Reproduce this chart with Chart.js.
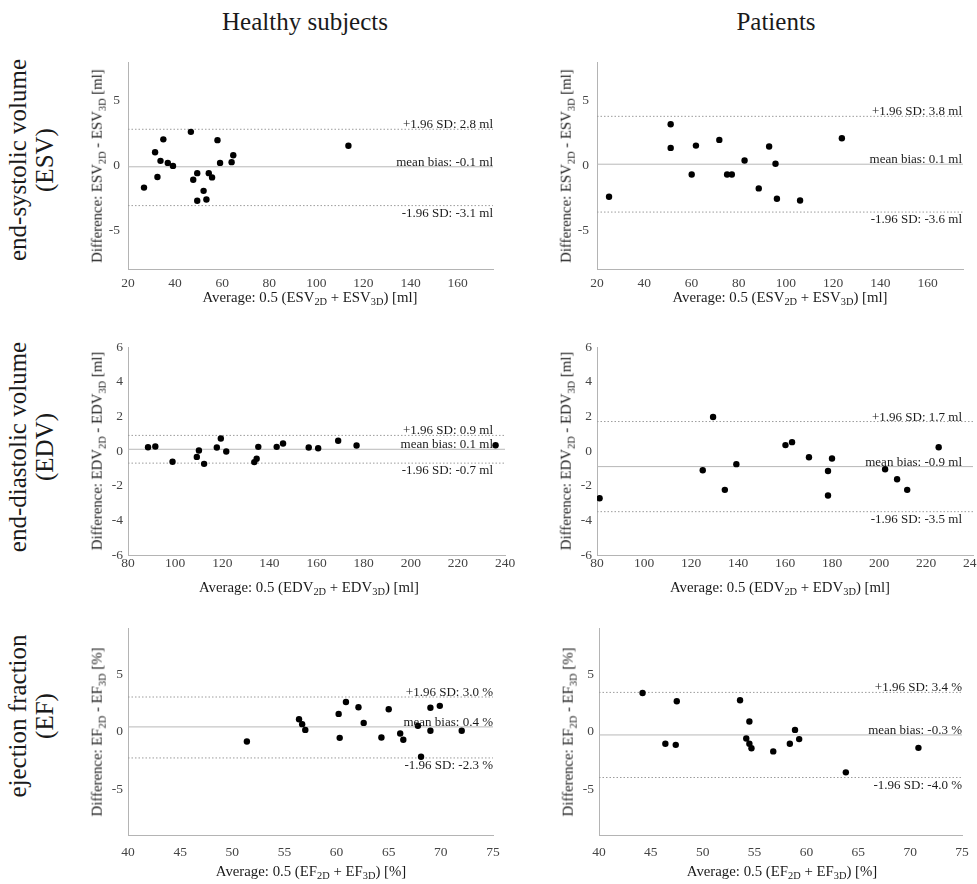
<!DOCTYPE html>
<html>
<head>
<meta charset="utf-8">
<script src="https://cdn.jsdelivr.net/npm/chart.js@4.4.1/dist/chart.umd.min.js"></script>
<style>
  body { margin: 0; background: #fff; }
  #fig { position: relative; width: 977px; height: 884px; font-family: "Liberation Serif", "Times New Roman", serif; color: #1a1a1a; overflow: hidden; }
  canvas { position: absolute; }
  .t { position: absolute; white-space: nowrap; transform: translate(-50%, -50%); }
  .rot { transform: translate(-50%, -50%) rotate(-90deg); }
  .sub { font-size: 70%; vertical-align: -0.35em; }
</style>
</head>
<body>
<div id="fig"></div>
<script>
// ---- data ----
const columns = ['Healthy subjects', 'Patients'];
const rowTitles = [['end-systolic volume', '(ESV)'], ['end-diastolic volume', '(EDV)'], ['ejection fraction', '(EF)']];

// ESV, healthy subjects
const esvHealthyAvg  = [26.8, 31.5, 32.5, 33.8, 35.0, 36.9, 39.1, 46.7, 47.7, 49.4, 49.4, 52.1, 53.3, 54.3, 55.7, 58.0, 59.1, 64.0, 64.7, 113.6];
const esvHealthyDiff = [-1.71, 1.02, -0.89, 0.36, 2.02, 0.20, -0.03, 2.60, -1.10, -0.59, -2.73, -1.96, -2.63, -0.59, -0.92, 1.96, 0.20, 0.26, 0.79, 1.53];
const esvHealthyLimits = [2.8, -0.1, -3.1];

// ESV, patients
const esvPatientAvg  = [25.1, 51.2, 51.2, 60.1, 61.9, 71.8, 75.1, 77.1, 82.5, 88.5, 92.9, 95.6, 96.2, 106.0, 123.7];
const esvPatientDiff = [-2.42, 3.19, 1.36, -0.69, 1.54, 1.98, -0.69, -0.69, 0.39, -1.77, 1.47, 0.13, -2.57, -2.70, 2.11];
const esvPatientLimits = [3.8, 0.1, -3.6];

// EDV, healthy subjects
const edvHealthyAvg  = [88.5, 91.6, 98.9, 109.2, 110.1, 112.3, 117.7, 119.4, 121.7, 133.6, 134.6, 135.3, 143.1, 145.8, 156.7, 160.7, 169.2, 177.0, 236.0];
const edvHealthyDiff = [0.22, 0.26, -0.62, -0.34, 0.03, -0.74, 0.20, 0.72, -0.03, -0.64, -0.45, 0.24, 0.24, 0.43, 0.20, 0.16, 0.59, 0.32, 0.33];
const edvHealthyLimits = [0.9, 0.1, -0.7];

// EDV, patients
const edvPatientAvg  = [81.1, 125.0, 129.4, 134.4, 139.3, 160.2, 163.0, 170.2, 178.3, 178.3, 180.0, 202.6, 207.7, 212.0, 225.4];
const edvPatientDiff = [-2.73, -1.11, 1.96, -2.24, -0.76, 0.34, 0.51, -0.36, -1.15, -2.57, -0.43, -1.05, -1.63, -2.24, 0.22];
const edvPatientLimits = [1.7, -0.9, -3.5];

// EF, healthy subjects
const efHealthyAvg  = [51.4, 56.4, 56.7, 57.0, 60.2, 60.3, 60.9, 62.1, 62.6, 64.3, 65.0, 66.1, 66.4, 67.8, 68.1, 69.0, 69.9, 69.0, 72.0];
const efHealthyDiff = [-0.87, 1.07, 0.64, 0.14, 1.53, -0.55, 2.57, 2.11, 0.75, -0.52, 1.94, -0.17, -0.72, 0.49, -2.19, 2.06, 2.23, 0.06, 0.06];
const efHealthyLimits = [3.0, 0.4, -2.3];

// EF, patients
const efPatientAvg  = [44.2, 46.4, 47.4, 47.5, 53.6, 54.2, 54.5, 54.5, 54.7, 56.8, 58.4, 58.9, 59.3, 63.8, 70.8];
const efPatientDiff = [3.35, -1.07, -1.16, 2.63, 2.72, -0.61, 0.87, -1.07, -1.45, -1.73, -1.07, 0.14, -0.66, -3.55, -1.42];
const efPatientLimits = [3.4, -0.3, -4.0];

// ticks
const esvXTicks = [20, 40, 60, 80, 100, 120, 140, 160];
const esvYTicks = [-5, 0, 5];
const edvXTicks = [80, 100, 120, 140, 160, 180, 200, 220, 240];
const edvYTicks = [-6, -4, -2, 0, 2, 4, 6];
const efXTicks = [40, 45, 50, 55, 60, 65, 70, 75];
const efYTicks = [-5, 0, 5];

const FONT = '"Liberation Serif", "Times New Roman", serif';
const fig = document.getElementById('fig');

function addText(html, x, y, size, rotated) {
  const d = document.createElement('div');
  d.className = 't' + (rotated ? ' rot' : '');
  d.style.left = x + 'px';
  d.style.top = y + 'px';
  d.style.fontSize = size + 'px';
  d.innerHTML = html;
  fig.appendChild(d);
  return d;
}

// text next to the bias / limit lines
const limitLabels = {
  id: 'limitLabels',
  afterDatasetsDraw(chart) {
    const o = chart.options.plugins.limitLabels;
    const ctx = chart.ctx;
    const y = chart.scales.y;
    const right = o.right;
    const f = v => v.toFixed(1);
    ctx.save();
    ctx.font = '13px ' + FONT;
    ctx.fillStyle = '#1a1a1a';
    ctx.textAlign = 'right';
    ctx.textBaseline = 'alphabetic';
    ctx.fillText('+1.96 SD: ' + f(o.lim[0]) + ' ' + o.unit, right, y.getPixelForValue(o.lim[0]) - 1);
    ctx.fillText('mean bias: ' + f(o.lim[1]) + ' ' + o.unit, right, y.getPixelForValue(o.lim[1]) - 1);
    ctx.fillText('-1.96 SD: ' + f(o.lim[2]) + ' ' + o.unit, right, y.getPixelForValue(o.lim[2]) + 11);
    ctx.restore();
  }
};

function makePanel(p) {
  const padL = 40, padT = 10, padB = 34;
  const padR = Math.max(0, Math.min(14, 977 - p.right));
  const w = p.right - p.left, h = p.bottom - p.top;
  const cv = document.createElement('canvas');
  cv.width = w + padL + padR;
  cv.height = h + padT + padB;
  cv.style.left = (p.left - padL) + 'px';
  cv.style.top = (p.top - padT) + 'px';
  fig.appendChild(cv);

  const hline = (v, dash, color) => ({
    type: 'line',
    data: [{x: p.xMin, y: v}, {x: p.xMax, y: v}],
    borderColor: color, borderWidth: 1, borderDash: dash,
    pointRadius: 0, fill: false
  });

  new Chart(cv, {
    type: 'scatter',
    data: {
      datasets: [
        {
          data: p.xs.map((x, i) => ({x: x, y: p.ys[i]})),
          backgroundColor: '#000', borderWidth: 0, pointRadius: 3.2
        },
        hline(p.lim[0], [1.5, 2], '#9c9c9c'),
        hline(p.lim[1], [], '#b8b8b8'),
        hline(p.lim[2], [1.5, 2], '#9c9c9c')
      ]
    },
    options: {
      responsive: false,
      animation: false,
      events: [],
      layout: {padding: {left: 0, top: padT, right: padR, bottom: 0}},
      plugins: {
        legend: {display: false},
        tooltip: {enabled: false},
        limitLabels: {lim: p.lim, unit: p.unit, right: p.labelRight - (p.left - padL)}
      },
      scales: {
        x: {
          type: 'linear', min: p.xMin, max: p.xMax,
          grid: {display: false, drawTicks: false},
          border: {color: '#b4b4b4'},
          ticks: {font: {family: FONT, size: 13.5}, color: '#444', padding: p.xPad, maxRotation: 0},
          afterBuildTicks: s => { s.ticks = p.xTicks.map(v => ({value: v})); },
          afterFit: s => { s.height = padB; s.paddingLeft = 0; s.paddingRight = 0; }
        },
        y: {
          type: 'linear', min: p.yMin, max: p.yMax,
          grid: {display: false, drawTicks: false},
          border: {color: '#b4b4b4'},
          ticks: {font: {family: FONT, size: 13.5}, color: '#444', padding: p.yPad},
          afterBuildTicks: s => { s.ticks = p.yTicks.map(v => ({value: v})); },
          afterFit: s => { s.width = padL; s.paddingTop = 0; s.paddingBottom = 0; }
        }
      }
    },
    plugins: [limitLabels]
  });

  const cy = (p.top + p.bottom) / 2;
  addText(p.xTitle, p.titleX, p.xTitleY, 14.8, false);
  addText(p.yTitle, p.left - 30, cy, 14.8, true);
}

const sub = s => '<span class="sub">' + s + '</span>';
const xt = (q, u) => 'Average: 0.5 (' + q + sub('2D') + ' + ' + q + sub('3D') + ') [' + u + ']';
const yt = (q, u) => 'Difference: ' + q + sub('2D') + ' - ' + q + sub('3D') + ' [' + u + ']';

// column / row headings
addText(columns[0], 305, 22, 25, false);
addText(columns[1], 776, 22, 25, false);
const rowCenters = [160, 447, 716];
rowTitles.forEach((r, i) => {
  const d = addText(r[0] + '<br>' + r[1], 31, rowCenters[i], 25, true);
  d.style.textAlign = 'center';
  d.style.lineHeight = '27px';
});

const rows = [
  {top: 62, bottom: 269, xTitleY: 298, xPad: 6, yPad: 8},
  {top: 347, bottom: 555, xTitleY: 588, xPad: 0, yPad: 5},
  {top: 628, bottom: 835, xTitleY: 872, xPad: 9, yPad: 5}
];

makePanel(Object.assign({}, rows[0], {left: 128, right: 493, labelRight: 493, titleX: 310,
  xMin: 20, xMax: 175, yMin: -8, yMax: 8,
  xs: esvHealthyAvg, ys: esvHealthyDiff, lim: esvHealthyLimits, unit: 'ml',
  xTicks: esvXTicks, yTicks: esvYTicks, xTitle: xt('ESV', 'ml'), yTitle: yt('ESV', 'ml')}));
makePanel(Object.assign({}, rows[0], {left: 597, right: 963, labelRight: 962, titleX: 780,
  xMin: 20, xMax: 175, yMin: -8, yMax: 8,
  xs: esvPatientAvg, ys: esvPatientDiff, lim: esvPatientLimits, unit: 'ml',
  xTicks: esvXTicks, yTicks: esvYTicks, xTitle: xt('ESV', 'ml'), yTitle: yt('ESV', 'ml')}));
makePanel(Object.assign({}, rows[1], {left: 128, right: 505, labelRight: 493, titleX: 309,
  xMin: 80, xMax: 240, yMin: -6, yMax: 6,
  xs: edvHealthyAvg, ys: edvHealthyDiff, lim: edvHealthyLimits, unit: 'ml',
  xTicks: edvXTicks, yTicks: edvYTicks, xTitle: xt('EDV', 'ml'), yTitle: yt('EDV', 'ml')}));
makePanel(Object.assign({}, rows[1], {left: 597, right: 975, labelRight: 962, titleX: 780,
  xMin: 80, xMax: 240, yMin: -6, yMax: 6,
  xs: edvPatientAvg, ys: edvPatientDiff, lim: edvPatientLimits, unit: 'ml',
  xTicks: edvXTicks, yTicks: edvYTicks, xTitle: xt('EDV', 'ml'), yTitle: yt('EDV', 'ml')}));
makePanel(Object.assign({}, rows[2], {left: 128, right: 493, labelRight: 493, titleX: 311,
  xMin: 40, xMax: 75, yMin: -9, yMax: 9,
  xs: efHealthyAvg, ys: efHealthyDiff, lim: efHealthyLimits, unit: '%',
  xTicks: efXTicks, yTicks: efYTicks, xTitle: xt('EF', '%'), yTitle: yt('EF', '%')}));
makePanel(Object.assign({}, rows[2], {left: 599, right: 962, labelRight: 962, titleX: 782,
  xMin: 40, xMax: 75, yMin: -9, yMax: 9,
  xs: efPatientAvg, ys: efPatientDiff, lim: efPatientLimits, unit: '%',
  xTicks: efXTicks, yTicks: efYTicks, xTitle: xt('EF', '%'), yTitle: yt('EF', '%')}));
</script>
</body>
</html>
